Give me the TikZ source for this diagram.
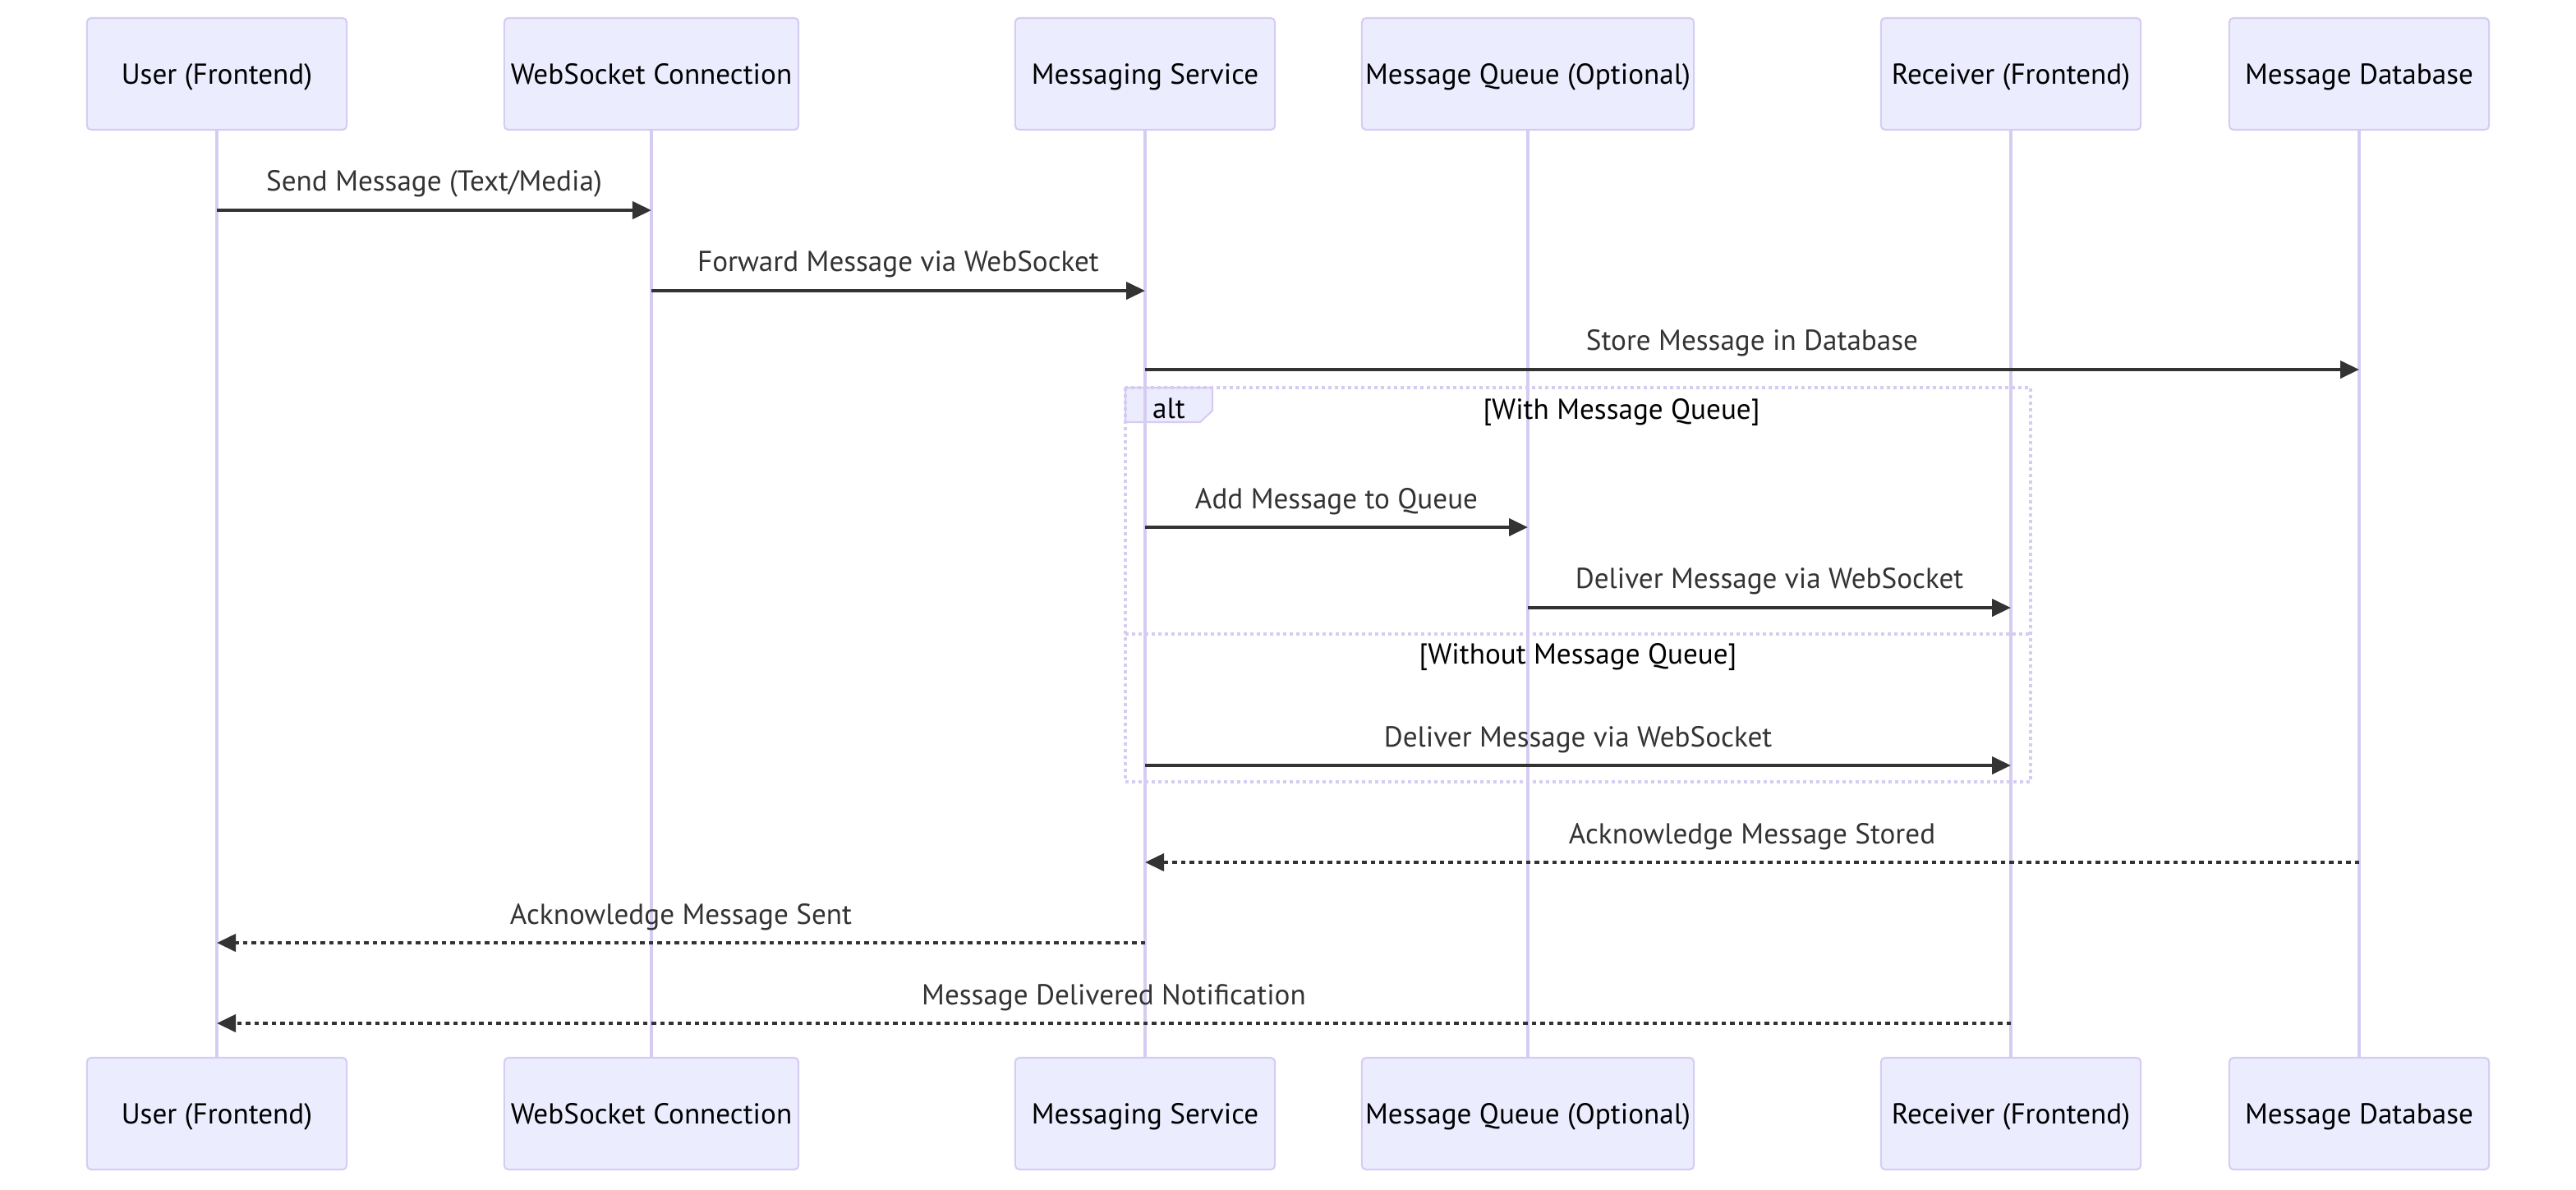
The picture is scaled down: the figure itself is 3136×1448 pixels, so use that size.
\documentclass[tikz,border=0pt]{standalone}
\usepackage{fontspec}
\setmainfont{PT Sans}
\usetikzlibrary{arrows.meta}
\definecolor{actfill}{HTML}{ECECFF}
\definecolor{actline}{HTML}{D6CCF2}
\definecolor{msgcol}{HTML}{333333}
\begin{document}
\begin{tikzpicture}[x=0.01cm,y=-0.01cm,
  font=\fontsize{10}{12}\selectfont,
  actor/.style={draw=actline, fill=actfill, line width=0.6pt, rounded corners=0.05cm, minimum height=1.36cm, inner sep=0pt, text height=0.7em, text depth=0pt, text=black},
  life/.style={draw=actline, line width=1pt},
  msg/.style={draw=msgcol, line width=1.15pt, -{Triangle[length=0.23cm,width=0.21cm]}},
  reply/.style={msg, dash pattern=on 0.055cm off 0.05cm},
  lbl/.style={text=msgcol, anchor=base, inner sep=0pt, pos=0.5, yshift=0.23cm},
  loopline/.style={draw=actline, line width=1.1pt, dash pattern=on 0.04cm off 0.04cm},
  looptxt/.style={text=black, anchor=base, inner sep=0pt}
]
\fill[white] (0,0) rectangle (3136,1448);
\useasboundingbox (0,0) rectangle (3136,1448);

% actors
\node[actor, minimum width=3.16cm] (uT) at (264,90) {User (Frontend)};
\node[actor, minimum width=3.58cm] (wT) at (793,90) {WebSocket Connection};
\node[actor, minimum width=3.16cm] (sT) at (1394,90) {Messaging Service};
\node[actor, minimum width=4.04cm] (qT) at (1860,90) {Message Queue (Optional)};
\node[actor, minimum width=3.16cm] (rT) at (2448,90) {Receiver (Frontend)};
\node[actor, minimum width=3.16cm] (dT) at (2872,90) {Message Database};
\node[actor, minimum width=3.16cm] (uB) at (264,1356) {User (Frontend)};
\node[actor, minimum width=3.58cm] (wB) at (793,1356) {WebSocket Connection};
\node[actor, minimum width=3.16cm] (sB) at (1394,1356) {Messaging Service};
\node[actor, minimum width=4.04cm] (qB) at (1860,1356) {Message Queue (Optional)};
\node[actor, minimum width=3.16cm] (rB) at (2448,1356) {Receiver (Frontend)};
\node[actor, minimum width=3.16cm] (dB) at (2872,1356) {Message Database};

% alt tab (under lifelines)
\filldraw[fill=actfill, draw=actline, line width=0.6pt] (1370,472) -- (1476,472) -- (1476,500) -- (1461,514) -- (1370,514) -- cycle;

% lifelines
\foreach \a in {u,w,s,q,r,d} { \draw[life] (\a T) -- (\a B); }

% alt frame
\draw[loopline] (1370,472) rectangle (2472,952);
\draw[loopline] (1370,772) -- (2472,772);
\node[looptxt] (altlbl) at (1423,509) {alt};
\node[looptxt] (cond1) at (1974,510) {[With Message Queue]};
\node[looptxt] (cond2) at (1921,808) {[Without Message Queue]};

% message rows
\coordinate (m1) at (0,256);
\coordinate (m2) at (0,354);
\coordinate (m3) at (0,450);
\coordinate (m4) at (0,642);
\coordinate (m5) at (0,740);
\coordinate (m6) at (0,932);
\coordinate (m7) at (0,1050);
\coordinate (m8) at (0,1148);
\coordinate (m9) at (0,1246);

\draw[msg] (uT |- m1) -- node[lbl] {Send Message (Text/Media)} (wT |- m1);
\draw[msg] (wT |- m2) -- node[lbl] {Forward Message via WebSocket} (sT |- m2);
\draw[msg] (sT |- m3) -- node[lbl] {Store Message in Database} (dT |- m3);
\draw[msg] (sT |- m4) -- node[lbl] {Add Message to Queue} (qT |- m4);
\draw[msg] (qT |- m5) -- node[lbl] {Deliver Message via WebSocket} (rT |- m5);
\draw[msg] (sT |- m6) -- node[lbl] {Deliver Message via WebSocket} (rT |- m6);
\draw[reply] (dT |- m7) -- node[lbl] {Acknowledge Message Stored} (sT |- m7);
\draw[reply] (sT |- m8) -- node[lbl] {Acknowledge Message Sent} (uT |- m8);
\draw[reply] (rT |- m9) -- node[lbl] {Message Delivered Notification} (uT |- m9);
\end{tikzpicture}
\end{document}
